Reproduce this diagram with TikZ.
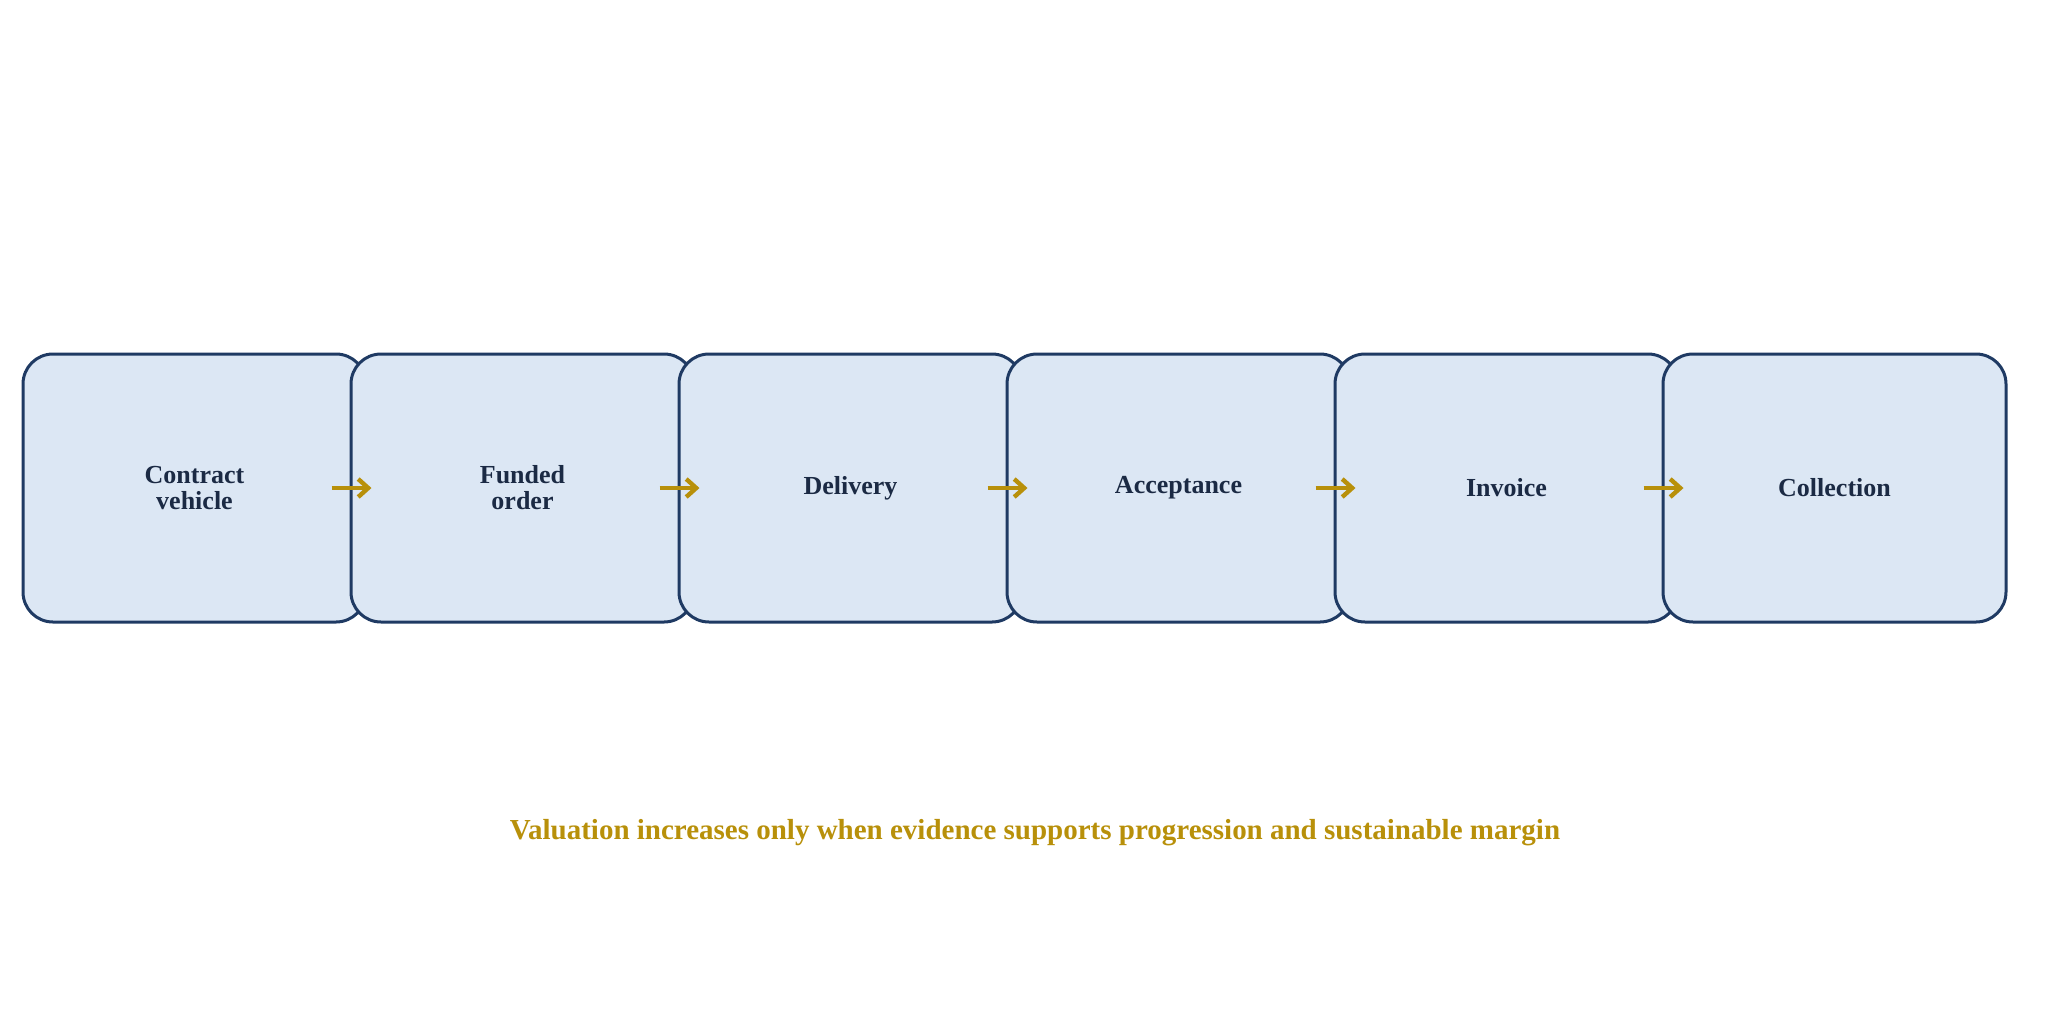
\documentclass[tikz,border=0pt]{standalone}
\usepackage{fontspec}
\setmainfont{Liberation Serif}
\usetikzlibrary{arrows.meta}
\definecolor{boxfill}{HTML}{DCE7F4}
\definecolor{boxline}{HTML}{1F3A63}
\definecolor{txt}{HTML}{1B2A44}
\definecolor{gold}{HTML}{B8900A}
\begin{document}
\begin{tikzpicture}[x=0.5pt,y=-0.5pt,
  stage/.style={draw=boxline,fill=boxfill,line width=1.5pt,rounded corners=15pt,
    minimum width=171.5pt,minimum height=134pt,inner sep=0pt,align=center,
    font=\fontsize{13}{13}\selectfont\bfseries,text=txt},
  flow/.style={draw=gold,line width=2.2pt,-{Straight Barb[length=5pt,width=9pt]}}]
\useasboundingbox (0,0) rectangle (2046,1034);
\foreach \n/\t [count=\i from 0] in {a/{Contract\\vehicle},b/{Funded\\order},c/Delivery,d/Acceptance,e/Invoice,f/Collection}
  \node[stage] (\n) at ({194.5+328*\i},488) {\t};
\foreach \p/\q in {a/b,b/c,c/d,d/e,e/f}
  \draw[flow] ([xshift=-18pt]\p.east) -- ([xshift=11pt]\q.west);
\node[text=gold,font=\fontsize{14.5}{14.5}\selectfont\bfseries] (cap) at (1035,833)
  {Valuation increases only when evidence supports progression and sustainable margin};
\end{tikzpicture}
\end{document}
